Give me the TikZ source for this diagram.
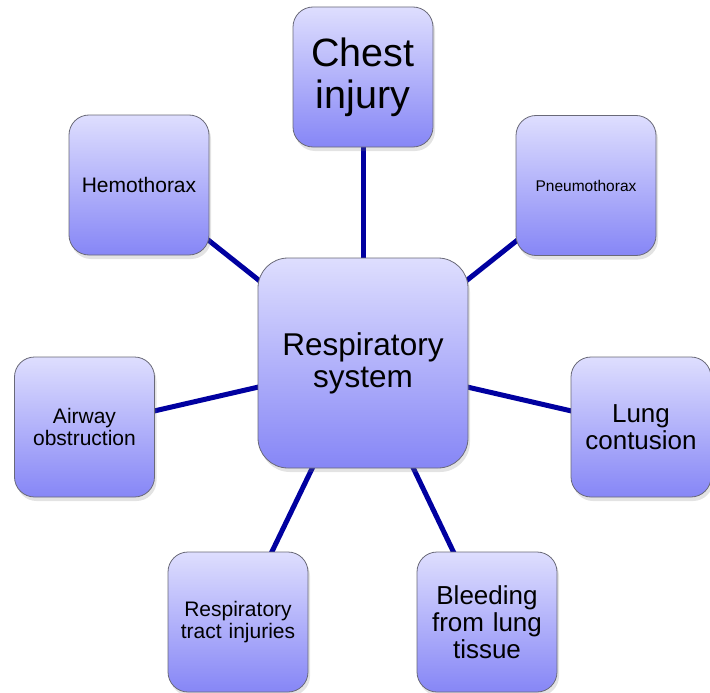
\documentclass[tikz,border=0pt]{standalone}
\usepackage{fontspec}
\setmainfont{Liberation Sans}
\usetikzlibrary{shadows,backgrounds}
\definecolor{boxtop}{RGB}{222,222,254}
\definecolor{boxbot}{RGB}{134,134,246}
\definecolor{boxedge}{RGB}{105,105,120}
\definecolor{linkcol}{RGB}{0,0,160}
\tikzset{
  box/.style={draw=boxedge, line width=0.8pt, rounded corners=20pt,
    top color=boxtop, bottom color=boxbot,
    minimum width=140pt, minimum height=140pt, inner sep=2pt,
    align=center, text width=132pt,
    drop shadow={opacity=0.22, shadow xshift=2pt, shadow yshift=-4pt}},
  bigbox/.style={box, rounded corners=30pt, minimum width=210pt, minimum height=210pt, text width=200pt},
  link/.style={draw=linkcol, line width=5pt}
}
\begin{document}
\begin{tikzpicture}[x=1pt,y=-1pt]
\useasboundingbox (0,0) rectangle (710,693);
\node[bigbox, font=\fontsize{31.5}{32}\selectfont] (c) at (363,363) {Respiratory\\system};
\node[box, font=\fontsize{39.5}{42}\selectfont] (chest) at (363,77) {Chest\\injury};
\node[box, font=\fontsize{21}{24}\selectfont] (hemo) at (139,185) {Hemothorax};
\node[box, font=\fontsize{15.5}{18}\selectfont] (pneu) at (586,185.5) {Pneumothorax};
\node[box, font=\fontsize{21}{22}\selectfont] (air) at (84.5,427) {Airway\\obstruction};
\node[box, font=\fontsize{26}{27}\selectfont] (lung) at (641,427) {Lung\\contusion};
\node[box, font=\fontsize{21}{22}\selectfont] (tract) at (238,622) {Respiratory\\tract injuries};
\node[box, font=\fontsize{26}{27}\selectfont] (bleed) at (487,622) {Bleeding\\from lung\\tissue};
\begin{scope}[on background layer]
\draw[link] (c.center) -- (chest.center);
\draw[link] (c.center) -- (hemo.center);
\draw[link] (c.center) -- (pneu.center);
\draw[link] (c.center) -- (air.center);
\draw[link] (c.center) -- (lung.center);
\draw[link] (c.center) -- (tract.center);
\draw[link] (c.center) -- (bleed.center);
\end{scope}
\end{tikzpicture}
\end{document}
